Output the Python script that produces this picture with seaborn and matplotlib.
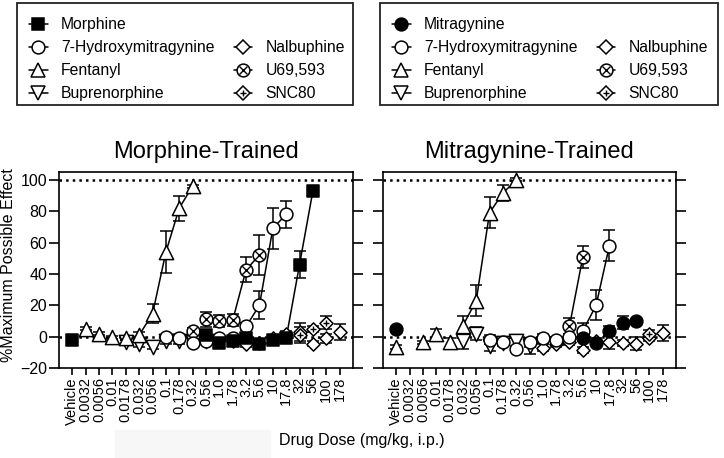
import pandas as pd
import seaborn as sns
import matplotlib.pyplot as plt
from matplotlib.lines import Line2D
from matplotlib.patches import Rectangle
from matplotlib.legend_handler import HandlerTuple

# Dose categories on the x axis (mg/kg, i.p.)
doses = ['Vehicle', '0.0032', '0.0056', '0.01', '0.0178', '0.032', '0.056', '0.1',
         '0.178', '0.32', '0.56', '1.0', '1.78', '3.2', '5.6', '10', '17.8', '32',
         '56', '100', '178']

# ---- Morphine-trained rats ----
mt_morphine_doses = ['Vehicle', '0.56', '1.0', '1.78', '3.2', '5.6', '10', '17.8', '32', '56']
mt_morphine_mpe = [-2, 1, -4, -3, -1, -5, -2, -1, 46, 93]
mt_morphine_sem = [1, 1.5, 1.5, 1.5, 1.5, 1.5, 1.5, 1.5, 8.5, 1.5]

mt_7oh_doses = ['0.1', '0.178', '0.32', '0.56', '1.0', '1.78', '3.2', '5.6', '10', '17.8']
mt_7oh_mpe = [0, -1, -4, -3, -1, -1, 6.5, 20, 69, 78]
mt_7oh_sem = [1, 1, 1.5, 1.5, 1.5, 1.5, 2, 9, 13, 8.5]

mt_fent_doses = ['0.0032', '0.0056', '0.01', '0.0178', '0.032', '0.056', '0.1', '0.178', '0.32']
mt_fent_mpe = [5, 2, -0.5, -1, 1, 14.5, 54, 82, 96]
mt_fent_sem = [1, 1, 1, 1, 2, 6, 13.5, 8, 1]

mt_bup_doses = ['0.0178', '0.032', '0.056', '0.1', '0.178', '0.32', '0.56']
mt_bup_mpe = [-3.5, -5, -6.5, -3, -3, -3.5, -2.5]
mt_bup_sem = [1.5, 1.5, 1.5, 1.5, 1.5, 1.5, 1.5]

mt_nalb_doses = ['1.78', '3.2', '5.6', '10', '17.8', '32', '56', '100', '178']
mt_nalb_mpe = [-3, -5, -4, -1, 2, 3, -4.5, -1, 3]
mt_nalb_sem = [1.5, 1.5, 1.5, 1.5, 1.5, 6, 1.5, 3, 5]

mt_u69_doses = ['0.32', '0.56', '1.0', '1.78', '3.2', '5.6']
mt_u69_mpe = [3.5, 11, 10, 10.5, 42.7, 52]
mt_u69_sem = [2, 5, 4, 4, 8, 13]

mt_snc_doses = ['32', '56', '100']
mt_snc_mpe = [1, 5, 9]
mt_snc_sem = [5, 2, 4]

# ---- Mitragynine-trained rats ----
gt_mitra_doses = ['Vehicle', '5.6', '10', '17.8', '32', '56']
gt_mitra_mpe = [5, -1, -4, 3.5, 9, 10]
gt_mitra_sem = [1, 1.5, 1.5, 3, 4, 1.5]

gt_7oh_doses = ['0.1', '0.178', '0.32', '0.56', '1.0', '1.78', '3.2', '5.6', '10', '17.8']
gt_7oh_mpe = [-2, -3.6, -8, -3.6, -1, -2, 0, 3.5, 20, 58]
gt_7oh_sem = [3, 2, 2, 3, 3, 2, 2, 5, 9.5, 10]

gt_fent_doses = ['Vehicle', '0.0056', '0.01', '0.0178', '0.032', '0.056', '0.1', '0.178', '0.32']
gt_fent_mpe = [-6.6, -3.6, 2, -3.6, 7, 23, 79, 91.5, 100]
gt_fent_sem = [1, 1, 3, 3, 6, 10, 10, 5, 1]

gt_bup_doses = ['0.032', '0.056', '0.1', '0.178', '0.32', '0.56']
gt_bup_mpe = [-3, 2, -6, -4, -3, -6]
gt_bup_sem = [5, 4, 3, 2, 4, 5]

gt_nalb_doses = ['1.0', '1.78', '3.2', '5.6', '10', '17.8', '32', '56', '100', '178']
gt_nalb_mpe = [-7, -4.5, -3.6, -8.7, -3, -3.6, -4, -4.5, -0.6, 2.3]
gt_nalb_sem = [2, 2, 2, 2, 2, 4, 2, 4, 2, 5]

gt_u69_doses = ['3.2', '5.6']
gt_u69_mpe = [6.6, 50.7]
gt_u69_sem = [5, 7]

gt_snc_doses = ['100']
gt_snc_mpe = [2]
gt_snc_sem = [2]

sns.set_style('ticks')
plt.rcParams['font.family'] = ['Liberation Sans', 'DejaVu Sans']
plt.rcParams['text.color'] = 'black'
plt.rcParams['axes.labelcolor'] = 'black'
plt.rcParams['xtick.color'] = 'black'
plt.rcParams['ytick.color'] = 'black'
plt.rcParams['axes.edgecolor'] = 'black'

# marker looks (scatter size in pt^2)
styles = {
    'Morphine': dict(marker='s', fc='black', s=72),
    'Mitragynine': dict(marker='o', fc='black', s=85),
    '7-Hydroxymitragynine': dict(marker='o', fc='white', s=85),
    'Fentanyl': dict(marker='^', fc='white', s=105),
    'Buprenorphine': dict(marker='v', fc='white', s=105),
    'Nalbuphine': dict(marker='D', fc='white', s=45),
    'U69,593': dict(marker='o', fc='white', s=85, inner='x'),
    'SNC80': dict(marker='D', fc='white', s=45, inner='+'),
}


def draw_drug(ax, name, dose_list, mpe, sem, connect=None):
    st = styles[name]
    df = pd.DataFrame({'x': [doses.index(d) for d in dose_list], 'mpe': mpe, 'sem': sem})
    ax.errorbar(df['x'], df['mpe'], yerr=df['sem'], fmt='none', ecolor='black',
                elinewidth=1.1, capsize=4, capthick=1.1, zorder=2)
    if connect:
        lo, hi = doses.index(connect[0]), doses.index(connect[1])
        seg = df[(df['x'] >= lo) & (df['x'] <= hi)]
        sns.lineplot(data=seg, x='x', y='mpe', ax=ax, color='black', lw=1.1,
                     zorder=3, legend=False)
    sns.scatterplot(data=df, x='x', y='mpe', ax=ax, marker=st['marker'], s=st['s'],
                    facecolor=st['fc'], edgecolor='black', linewidth=1.1, zorder=4,
                    legend=False)
    if 'inner' in st:
        sns.scatterplot(data=df, x='x', y='mpe', ax=ax, marker=st['inner'], s=st['s'] * 0.45,
                        color='black', linewidth=1.0, zorder=5, legend=False)


fig = plt.figure(figsize=(7.24, 4.58), dpi=100)
ax1 = fig.add_axes([59 / 724, 1 - 368 / 458, 294 / 724, 196 / 458])
ax2 = fig.add_axes([383 / 724, 1 - 368 / 458, 293 / 724, 196 / 458])

draw_drug(ax1, 'Nalbuphine', mt_nalb_doses, mt_nalb_mpe, mt_nalb_sem)
draw_drug(ax1, 'SNC80', mt_snc_doses, mt_snc_mpe, mt_snc_sem)
draw_drug(ax1, 'Buprenorphine', mt_bup_doses, mt_bup_mpe, mt_bup_sem)
draw_drug(ax1, 'U69,593', mt_u69_doses, mt_u69_mpe, mt_u69_sem, connect=('1.78', '5.6'))
draw_drug(ax1, '7-Hydroxymitragynine', mt_7oh_doses, mt_7oh_mpe, mt_7oh_sem, connect=('3.2', '17.8'))
draw_drug(ax1, 'Fentanyl', mt_fent_doses, mt_fent_mpe, mt_fent_sem, connect=('0.032', '0.32'))
draw_drug(ax1, 'Morphine', mt_morphine_doses, mt_morphine_mpe, mt_morphine_sem, connect=('17.8', '56'))

draw_drug(ax2, 'Nalbuphine', gt_nalb_doses, gt_nalb_mpe, gt_nalb_sem)
draw_drug(ax2, 'SNC80', gt_snc_doses, gt_snc_mpe, gt_snc_sem)
draw_drug(ax2, 'Buprenorphine', gt_bup_doses, gt_bup_mpe, gt_bup_sem)
draw_drug(ax2, 'U69,593', gt_u69_doses, gt_u69_mpe, gt_u69_sem, connect=('3.2', '5.6'))
draw_drug(ax2, '7-Hydroxymitragynine', gt_7oh_doses, gt_7oh_mpe, gt_7oh_sem, connect=('5.6', '17.8'))
draw_drug(ax2, 'Fentanyl', gt_fent_doses, gt_fent_mpe, gt_fent_sem, connect=('0.032', '0.32'))
draw_drug(ax2, 'Mitragynine', gt_mitra_doses, gt_mitra_mpe, gt_mitra_sem)

for ax, title in [(ax1, 'Morphine-Trained'), (ax2, 'Mitragynine-Trained')]:
    ax.axhline(0, ls=':', color='black', lw=1.8, zorder=1)
    ax.axhline(100, ls=':', color='black', lw=1.8, zorder=1)
    ax.set_xlim(-1, 21)
    ax.set_ylim(-20, 105)
    ax.set_xticks(range(len(doses)))
    ax.set_xticklabels(doses, rotation=90, fontsize=10.5)
    ax.set_yticks(range(-20, 101, 20))
    ax.set_xlabel('')
    ax.set_ylabel('')
    ax.tick_params(axis='y', left=True, right=True, direction='out', length=7,
                   width=1.2, labelsize=11.5, pad=1.5)
    ax.tick_params(axis='x', direction='out', length=5, width=1.2, pad=1.5)
    for sp in ax.spines.values():
        sp.set_visible(True)
        sp.set_linewidth(1.2)
        sp.set_color('black')
    ax.set_title(title, fontsize=17, pad=10)

ax2.tick_params(axis='y', labelleft=False)
ax1.set_ylabel('%Maximum Possible Effect', fontsize=11.5)
ax1.yaxis.set_label_coords(-0.145, 0.525)

fig.text(362 / 724, 1 - 440 / 458, 'Drug Dose (mg/kg, i.p.)', ha='center', va='center',
         fontsize=11.5)
fig.add_artist(Rectangle((115 / 724, 0), 155 / 724, 28 / 458, transform=fig.transFigure,
                         color='#f7f7f7', zorder=0))


def handle(name):
    st = styles[name]
    base = Line2D([0], [0], color='black', lw=1.1, marker=st['marker'],
                  markersize=st['s'] ** 0.5, markerfacecolor=st['fc'],
                  markeredgecolor='black', markeredgewidth=1.1)
    if 'inner' in st:
        inner = Line2D([0], [0], linestyle='none', marker=st['inner'],
                       markersize=st['s'] ** 0.5 * 0.67, color='black', markeredgewidth=1.0)
        return (base, inner)
    return base


blank = Line2D([], [], linestyle='none')
for first, box_x0, box_x1 in [('Morphine', 17, 353), ('Mitragynine', 380, 718)]:
    names = [first, '7-Hydroxymitragynine', 'Fentanyl', 'Buprenorphine',
             None, 'Nalbuphine', 'U69,593', 'SNC80']
    hs = [handle(n) if n else blank for n in names]
    labels = [n if n else '' for n in names]
    fig.legend(hs, labels, loc='upper left',
               bbox_to_anchor=((box_x0 + 12) / 724, 1 - 17 / 458),
               ncol=2, frameon=False, fontsize=11.3, handlelength=1.2,
               handletextpad=0.85, columnspacing=1.2, labelspacing=0.51,
               borderpad=0, borderaxespad=0,
               handler_map={tuple: HandlerTuple(ndivide=1)})
    fig.add_artist(Rectangle((box_x0 / 724, 1 - 105 / 458), (box_x1 - box_x0) / 724,
                             102 / 458, transform=fig.transFigure, fill=False,
                             edgecolor='#222222', linewidth=1.3))

fig.savefig('out.png', dpi=100)
